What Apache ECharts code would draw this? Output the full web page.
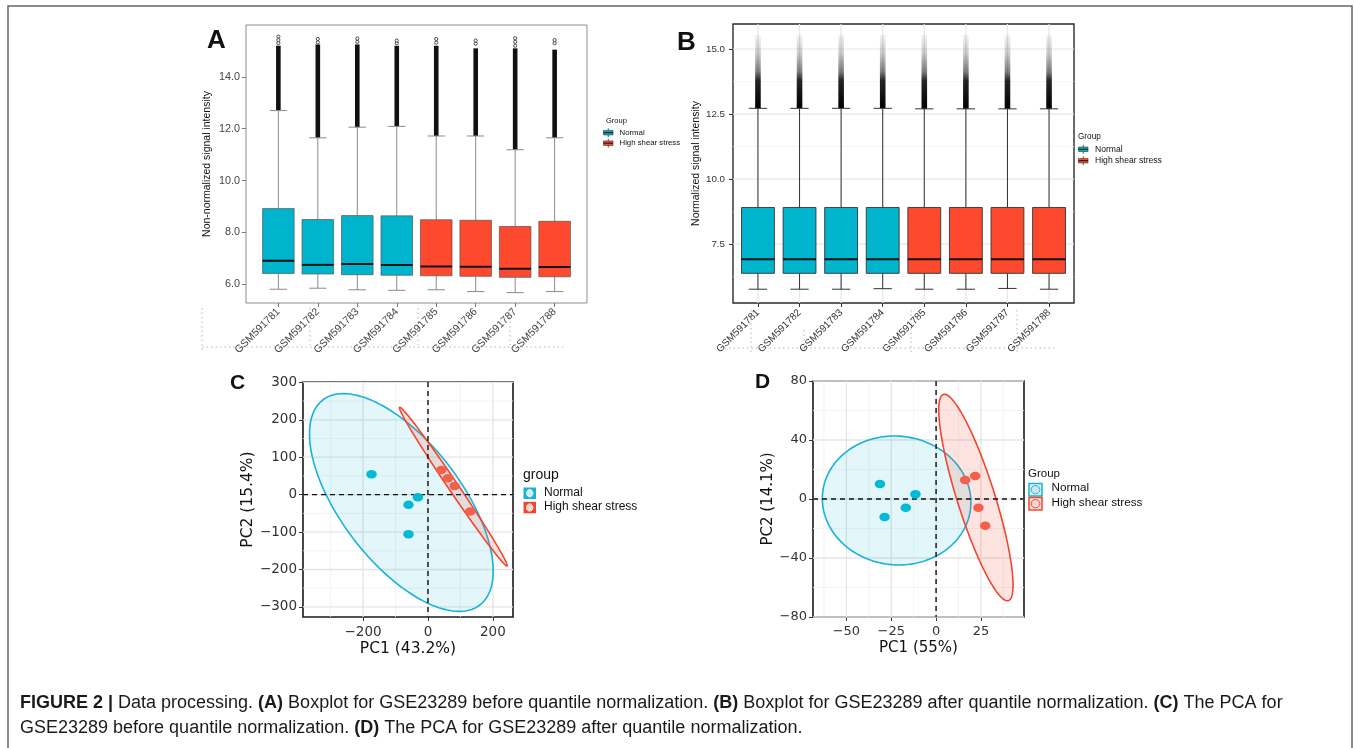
<!DOCTYPE html>
<html><head><meta charset="utf-8">
<script src="https://cdn.jsdelivr.net/npm/echarts@6/dist/echarts.min.js"></script>
<style>html,body{margin:0;padding:0;background:#fff}#c{width:1354px;height:748px}</style>
</head><body><div id="c"></div>
<script>
// ---------- data ----------
const samples = ['GSM591781','GSM591782','GSM591783','GSM591784','GSM591785','GSM591786','GSM591787','GSM591788'];
const sampleGroup = [0,0,0,0,1,1,1,1];
const groups = ['Normal','High shear stress'];

// Panel A: non-normalized box statistics
const aWhiskerLow  = [5.81,5.85,5.79,5.77,5.79,5.72,5.68,5.72];
const aQ1          = [6.42,6.40,6.37,6.35,6.33,6.31,6.27,6.29];
const aMedian      = [6.91,6.75,6.78,6.75,6.69,6.68,6.60,6.67];
const aQ3          = [8.92,8.50,8.65,8.64,8.49,8.47,8.23,8.43];
const aWhiskerHigh = [12.70,11.65,12.06,12.09,11.72,11.72,11.19,11.65];
const aDenseOutlierTop = [15.20,15.25,15.25,15.20,15.20,15.10,15.10,15.05];
const aTopOutliers = [[15.30,15.42,15.55],[15.33,15.46],[15.35,15.48],[15.30,15.40],[15.32,15.46],[15.28,15.40],[15.20,15.35,15.49],[15.30,15.42]];
const aYTicks = [6,8,10,12,14];

// Panel B: normalized box statistics
const bWhiskerLow  = [5.77,5.77,5.77,5.79,5.77,5.77,5.80,5.77];
const bQ1          = [6.38,6.38,6.38,6.38,6.38,6.38,6.38,6.38];
const bMedian      = [6.92,6.92,6.92,6.92,6.92,6.92,6.92,6.92];
const bQ3          = [8.91,8.91,8.91,8.91,8.91,8.91,8.91,8.91];
const bWhiskerHigh = [12.72,12.72,12.72,12.72,12.70,12.70,12.70,12.70];
const bOutlierTop  = [15.54,15.54,15.54,15.54,15.54,15.54,15.54,15.54];
const bYTicks = [7.5,10,12.5,15];
const bYMinor = [6.25,8.75,11.25,13.75];

// Panel C: PCA before normalization
const cNormalPC1 = [-174,-31,-60,-60];
const cNormalPC2 = [54.5,-7,-27,-106];
const cHighPC1 = [41,61.5,82,130];
const cHighPC2 = [66,44,23,-45];
// ellipse: [centre PC1, centre PC2, half-extent PC1, half-extent PC2, correlation]
const cNormalEllipse = [-82,-21,283,291,-0.63];
const cHighEllipse = [78,21.5,166,212,-0.994];
const cXTicks = [-200,0,200];
const cXMinor = [-300,-100,100];
const cYTicks = [-300,-200,-100,0,100,200,300];
const cYMinor = [-250,-150,-50,50,150,250];

// Panel D: PCA after normalization
const dNormalPC1 = [-31.3,-28.7,-16.9,-11.5];
const dNormalPC2 = [10.2,-12.2,-5.9,3.2];
const dHighPC1 = [16.2,21.8,23.6,27.4];
const dHighPC2 = [12.9,15.6,-5.9,-18.1];
const dNormalEllipse = [-22,-1,41.4,43.7,-0.03];
const dHighEllipse = [22.2,1.0,20.7,70,-0.847];
const dXTicks = [-50,-25,0,25];
const dXMinor = [-62.5,-37.5,-12.5,12.5,37.5];
const dYTicks = [-80,-40,0,40,80];
const dYMinor = [-60,-20,20,60];

const captionLine1 = '{b|FIGURE 2 |} Data processing. {b|(A)} Boxplot for GSE23289 before quantile normalization. {b|(B)} Boxplot for GSE23289 after quantile normalization. {b|(C)} The PCA for';
const captionLine2 = 'GSE23289 before quantile normalization. {b|(D)} The PCA for GSE23289 after quantile normalization.';

// ---------- style ----------
const F = 'Liberation Sans, Arial, Helvetica, sans-serif';
const FD = 'DejaVu Sans, sans-serif';
const BOX_FILL = ['#00B4CE','#FD4A2E'];
const PT = ['#00BAD6','#F5604A'];
const ELL_STROKE = ['#17B3D8','#F4462F'];
const ELL_FILL = ['rgba(0,175,210,0.11)','rgba(245,90,70,0.16)'];
const idx = samples.map((s,i)=>i+1);
const minus = v => String(v).replace('-', '\u2212');
const CAP_FS = 18;

// ---------- builders ----------
function boxRows(lo,q1,md,q3,hi,t1,t2){
  return samples.map((s,i)=>[i+1,lo[i],q1[i],md[i],q3[i],hi[i],t1[i],t2[i],sampleGroup[i]]);
}
function boxSeries(ai, rows, kind){
  return {type:'custom', xAxisIndex:ai, yAxisIndex:ai, z:3, silent:true, data:rows,
    renderItem(params, api){
      const x = api.value(0);
      const unit = api.size([1,0])[0];
      const w = unit*(kind==='A'?0.8:0.79);
      const cw = unit*0.44;
      const cx = api.coord([x, api.value(3)])[0];
      const Y = v => api.coord([x, v])[1];
      const lo=Y(api.value(1)), q1=Y(api.value(2)), md=Y(api.value(3)), q3=Y(api.value(4)), hi=Y(api.value(5)), t1=Y(api.value(6)), t2=Y(api.value(7));
      const g = api.value(8);
      const wc = kind==='A' ? '#8a8a8a' : '#333';
      const ch = [];
      if (kind==='A'){
        ch.push({type:'rect', shape:{x:cx-2.3,y:t1,width:4.6,height:hi-t1}, style:{fill:'#111'}});
        aTopOutliers[params.dataIndex].forEach(v=>ch.push({type:'circle', shape:{cx:cx, cy:Y(v), r:1.6}, style:{fill:'#fff', stroke:'#222', lineWidth:0.8}}));
      } else {
        ch.push({type:'rect', shape:{x:cx-2.8,y:t2,width:5.6,height:hi-t2}, style:{fill:{type:'linear',x:0,y:0,x2:0,y2:1,colorStops:[
          {offset:0,color:'rgba(0,0,0,0.05)'},{offset:0.25,color:'rgba(0,0,0,0.2)'},{offset:0.5,color:'rgba(0,0,0,0.5)'},{offset:0.62,color:'rgba(0,0,0,0.85)'},{offset:1,color:'#000'}]}}});
      }
      ch.push({type:'line', shape:{x1:cx,y1:q3,x2:cx,y2:hi}, style:{stroke:wc, lineWidth:1}});
      ch.push({type:'line', shape:{x1:cx,y1:q1,x2:cx,y2:lo}, style:{stroke:wc, lineWidth:1}});
      ch.push({type:'line', shape:{x1:cx-cw/2,y1:lo,x2:cx+cw/2,y2:lo}, style:{stroke:wc, lineWidth:1}});
      ch.push({type:'line', shape:{x1:cx-cw/2,y1:hi,x2:cx+cw/2,y2:hi}, style:{stroke:wc, lineWidth:1}});
      ch.push({type:'rect', shape:{x:cx-w/2,y:q3,width:w,height:q1-q3}, style:{fill:BOX_FILL[g], stroke:kind==='A'?'#555':'#333', lineWidth:kind==='A'?0.7:0.9}});
      ch.push({type:'line', shape:{x1:cx-w/2,y1:md,x2:cx+w/2,y2:md}, style:{stroke:'#111', lineWidth:2}});
      return {type:'group', children:ch};
    }};
}
function gridLines(ai, rows, color, width, dash, z){
  return {type:'custom', xAxisIndex:ai, yAxisIndex:ai, z:z, silent:true, data:rows,
    renderItem(params, api){
      const cs = params.coordSys;
      const v = api.value(0), o = api.value(1);
      let shape;
      if (o===0){ const x = api.coord([v, 0])[0]; shape={x1:x,y1:cs.y,x2:x,y2:cs.y+cs.height}; }
      else { const y = api.coord([0, v])[1]; shape={x1:cs.x,y1:y,x2:cs.x+cs.width,y2:y}; }
      return {type:'line', shape:shape, style:{stroke:color, lineWidth:width, lineDash:dash||null}};
    }};
}
const vRows = a => a.map(v=>[v,0]);
const hRows = a => a.map(v=>[v,1]);
function ellipseSeries(ai, e, g){
  return {type:'custom', xAxisIndex:ai, yAxisIndex:ai, z:2, silent:true, data:[e],
    renderItem(params, api){
      const cx=api.value(0), cy=api.value(1), sx=api.value(2), sy=api.value(3), r=api.value(4);
      const k = Math.sqrt(1-r*r);
      const pts=[];
      for(let j=0;j<=180;j++){ const t=j/180*2*Math.PI; pts.push(api.coord([cx+sx*Math.cos(t), cy+sy*(r*Math.cos(t)+k*Math.sin(t))])); }
      return {type:'polygon', shape:{points:pts}, style:{fill:ELL_FILL[g], stroke:ELL_STROKE[g], lineWidth:1.6}};
    }};
}
function scatter(ai, xs, ys, g, name){
  return {type:'scatter', name:name, xAxisIndex:ai, yAxisIndex:ai, z:5, silent:true, symbol:'circle', symbolSize:[10.5,8.5],
    itemStyle:{color:PT[g], opacity:1}, data: xs.map((v,i)=>[v, ys[i]])};
}
function valAxis(gi, pos, min, max, ticks, o){
  return {type:'value', gridIndex:gi, position:pos, min:min, max:max,
    axisLine:{show:false, onZero:false}, splitLine:{show:false},
    axisTick:{show:true, customValues:ticks, length:o.tl||4, inside:false, lineStyle:{color:o.tc||'#333', width:o.tw||1}},
    axisLabel:{customValues:ticks, fontSize:o.fs, fontFamily:o.ff||F, color:o.lc||'#333', margin:o.m||6, rotate:o.rot||0,
      formatter:o.fmt||(v=>minus(v))},
    name:o.name||'', nameLocation:'middle', nameGap:o.ng||20,
    nameTextStyle:{fontSize:o.nfs||11, fontFamily:o.ff||F, color:'#111'}};
}

// ---------- legends (graphic) ----------
function boxKey(x, yc, w, h, fill){
  return {type:'group', children:[
    {type:'line', shape:{x1:x+w/2,y1:yc-h/2-2.2,x2:x+w/2,y2:yc+h/2+2.2}, style:{stroke:'#333', lineWidth:0.8}},
    {type:'rect', shape:{x:x,y:yc-h/2,width:w,height:h}, style:{fill:fill, stroke:'#333', lineWidth:0.6}},
    {type:'line', shape:{x1:x,y1:yc,x2:x+w,y2:yc}, style:{stroke:'#111', lineWidth:1}}
  ]};
}
function txt(x,y,t,fs,ff,extra){
  return {type:'text', x:x, y:y, style:Object.assign({text:t, fontSize:fs, fontFamily:ff||F, fill:'#111', textVerticalAlign:'middle', verticalAlign:'middle'}, extra||{})};
}
function dotted(x1,y1,x2,y2){
  return {type:'line', silent:true, shape:{x1:x1,y1:y1,x2:x2,y2:y2}, style:{stroke:'#b5b5b5', lineWidth:1, lineDash:[1.5,3]}};
}
const graphics = [
  {type:'rect', shape:{x:8,y:6,width:1344,height:800}, style:{fill:'none', stroke:'#666', lineWidth:1.5}, silent:true},
  txt(207,41,'A',26,F,{fontWeight:'bold'}),
  txt(677,42.5,'B',26,F,{fontWeight:'bold'}),
  txt(230,383,'C',21,F,{fontWeight:'bold'}),
  txt(755,382.5,'D',21,F,{fontWeight:'bold'}),
  // faint guide dots under the sample labels
  dotted(202,347,563,347), dotted(202,308,202,352), dotted(310,308,310,345), dotted(418,308,418,345), dotted(510,308,510,345),
  dotted(720,348,1057,348), dotted(751,310,751,355), dotted(804,330,804,352), dotted(911,310,911,352), dotted(1017,310,1017,352),
  // legend A
  txt(606,121,'Group',7.5),
  boxKey(603.5,132.7,9.5,4.5,BOX_FILL[0]), txt(619.5,132.7,groups[0],7.8),
  boxKey(603.5,143.2,9.5,4.5,BOX_FILL[1]), txt(619.5,143.2,groups[1],7.8),
  // legend B
  txt(1078,136.5,'Group',8.2),
  boxKey(1078.5,149.3,9.5,4.5,BOX_FILL[0]), txt(1095,149.3,groups[0],8.6),
  boxKey(1078.5,160.7,9.5,4.5,BOX_FILL[1]), txt(1095,160.7,groups[1],8.6),
  // legend C
  txt(523,475,'group',14,F),
  {type:'rect', shape:{x:523.5,y:487.5,width:12.5,height:11.5}, style:{fill:ELL_STROKE[0]}},
  {type:'ellipse', shape:{cx:529.7,cy:493.2,rx:3.2,ry:3.6}, style:{fill:'#d5eef4', stroke:'#eefafc', lineWidth:1}},
  txt(544,492.7,groups[0],12,F),
  {type:'rect', shape:{x:523.5,y:501.8,width:12.5,height:11.5}, style:{fill:ELL_STROKE[1]}},
  {type:'ellipse', shape:{cx:529.7,cy:507.5,rx:3.2,ry:3.6}, style:{fill:'#f6d5cf', stroke:'#fdeeea', lineWidth:1}},
  txt(544,507,groups[1],12,F),
  // legend D
  txt(1028,474,'Group',11.5,F),
  {type:'rect', shape:{x:1029,y:483.5,width:13,height:12.5}, style:{fill:'#e3f4f8', stroke:ELL_STROKE[0], lineWidth:1.5}},
  {type:'ellipse', shape:{cx:1035.5,cy:489.7,rx:4.4,ry:4.2}, style:{fill:'#cfe3e8', stroke:ELL_STROKE[0], lineWidth:1}},
  txt(1051.5,488,groups[0],11.7,F),
  {type:'rect', shape:{x:1029,y:497.5,width:13,height:12.5}, style:{fill:'#fde3df', stroke:ELL_STROKE[1], lineWidth:1.5}},
  {type:'ellipse', shape:{cx:1035.5,cy:503.7,rx:4.4,ry:4.2}, style:{fill:'#ecd6d2', stroke:ELL_STROKE[1], lineWidth:1}},
  txt(1051.5,503,groups[1],11.7,F),
  // caption
  {type:'text', x:20, y:703, style:{text:captionLine1, fontSize:CAP_FS, fontFamily:F, fill:'#1a1a1a', verticalAlign:'middle', textVerticalAlign:'middle',
     rich:{b:{fontWeight:'bold', fontSize:CAP_FS, fontFamily:F, fill:'#1a1a1a', color:'#1a1a1a'}}}},
  {type:'text', x:20, y:728, style:{text:captionLine2, fontSize:CAP_FS, fontFamily:F, fill:'#1a1a1a', verticalAlign:'middle', textVerticalAlign:'middle',
     rich:{b:{fontWeight:'bold', fontSize:CAP_FS, fontFamily:F, fill:'#1a1a1a', color:'#1a1a1a'}}}}
];

const option = {
  animation:false,
  backgroundColor:'#fff',
  grid:[
    {left:246, top:25, width:341, height:278, show:true, borderColor:'#8c8c8c', borderWidth:1, backgroundColor:'rgba(0,0,0,0)', outerBoundsMode:'none', containLabel:false},
    {left:733, top:24, width:341, height:279, show:true, borderColor:'#2b2b2b', borderWidth:1.4, backgroundColor:'rgba(0,0,0,0)', outerBoundsMode:'none', containLabel:false},
    {left:303, top:382, width:210, height:235, show:true, borderColor:'#1a1a1a', borderWidth:1.6, backgroundColor:'rgba(0,0,0,0)', outerBoundsMode:'none', containLabel:false},
    {left:813, top:381, width:211, height:236, show:true, borderColor:'#1a1a1a', borderWidth:1.6, backgroundColor:'rgba(0,0,0,0)', outerBoundsMode:'none', containLabel:false}
  ],
  xAxis:[
    valAxis(0,'bottom',0.18,8.82,idx,{fs:10.5, lc:'#444', tc:'#777', rot:45, m:7, fmt:v=>samples[Math.round(v)-1]}),
    valAxis(1,'bottom',0.4,8.6,idx,{fs:10, lc:'#333', tc:'#333', rot:45, m:8, fmt:v=>samples[Math.round(v)-1]}),
    valAxis(2,'bottom',-385,262,cXTicks,{fs:13.5, ff:FD, lc:'#333', m:8, name:'PC1 (43.2%)', nfs:15.5, ng:24}),
    valAxis(3,'bottom',-68.6,49,dXTicks,{fs:13, ff:FD, lc:'#333', m:8, name:'PC1 (55%)', nfs:15, ng:24})
  ],
  yAxis:[
    valAxis(0,'left',5.28,16.0,aYTicks,{fs:10.8, lc:'#444', tc:'#777', m:6, fmt:v=>v.toFixed(1), name:'Non-normalized signal intensity', nfs:10.5, ng:33}),
    valAxis(1,'left',5.24,15.96,bYTicks,{fs:9.8, lc:'#333', tc:'#333', m:8, fmt:v=>v.toFixed(1), name:'Normalized signal intensity', nfs:10.5, ng:28}),
    valAxis(2,'left',-327,301,cYTicks,{fs:13.5, ff:FD, lc:'#333', m:6, name:'PC2 (15.4%)', nfs:15.5, ng:44}),
    valAxis(3,'left',-80,80,dYTicks,{fs:13, ff:FD, lc:'#333', m:6, name:'PC2 (14.1%)', nfs:15, ng:35})
  ],
  series:[
    // A
    boxSeries(0, boxRows(aWhiskerLow,aQ1,aMedian,aQ3,aWhiskerHigh,aDenseOutlierTop,aDenseOutlierTop), 'A'),
    // B
    gridLines(1, hRows(bYMinor), '#f0f0f0', 0.7, null, 1),
    gridLines(1, hRows(bYTicks).concat(vRows(idx)), '#e6e6e6', 1.2, null, 1),
    boxSeries(1, boxRows(bWhiskerLow,bQ1,bMedian,bQ3,bWhiskerHigh,bOutlierTop,bOutlierTop), 'B'),
    // C
    gridLines(2, vRows(cXMinor).concat(hRows(cYMinor)), '#f0f0f0', 0.8, null, 1),
    gridLines(2, vRows(cXTicks).concat(hRows(cYTicks)), '#e4e4e4', 1.3, null, 1),
    ellipseSeries(2, cNormalEllipse, 0),
    ellipseSeries(2, cHighEllipse, 1),
    gridLines(2, [[0,0],[0,1]], '#111', 1.4, [5,4], 4),
    scatter(2, cNormalPC1, cNormalPC2, 0, groups[0]),
    scatter(2, cHighPC1, cHighPC2, 1, groups[1]),
    // D
    gridLines(3, vRows(dXMinor).concat(hRows(dYMinor)), '#f0f0f0', 0.8, null, 1),
    gridLines(3, vRows(dXTicks).concat(hRows(dYTicks)), '#e4e4e4', 1.3, null, 1),
    ellipseSeries(3, dNormalEllipse, 0),
    ellipseSeries(3, dHighEllipse, 1),
    gridLines(3, [[0,0],[0,1]], '#111', 1.4, [5,4], 4),
    scatter(3, dNormalPC1, dNormalPC2, 0, groups[0]),
    scatter(3, dHighPC1, dHighPC2, 1, groups[1])
  ],
  graphic: graphics
};
const chart = echarts.init(document.getElementById('c'));
chart.setOption(option);
</script></body></html>
